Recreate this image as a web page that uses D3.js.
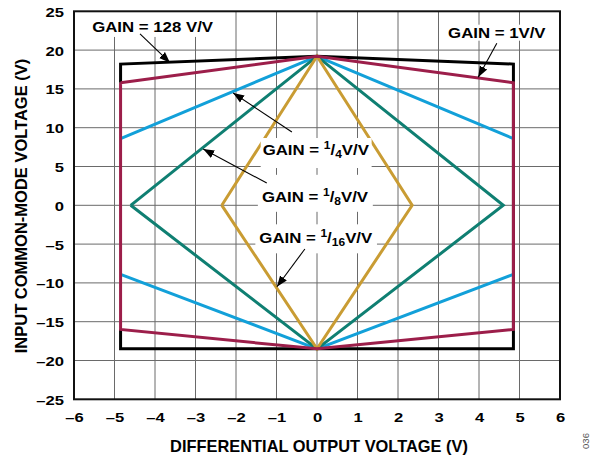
<!DOCTYPE html>
<html><head><meta charset="utf-8">
<script src="https://cdn.jsdelivr.net/npm/d3@7"></script>
<style>body{margin:0;background:#fff}svg{display:block}text{font-family:"Liberation Sans",Arial,sans-serif}</style>
</head><body><svg id="c" width="591" height="457"></svg>
<script>
// Data (x: differential output voltage V, y: input common-mode voltage V)
const xTicks = [-6,-5,-4,-3,-2,-1,0,1,2,3,4,5,6];
const yTicks = [-25,-20,-15,-10,-5,0,5,10,15,20,25];
const gain128 = [[-4.85,-16.0],[-4.85,-18.5],[4.85,-18.5],[4.85,-16.0],[4.85,15.8],[4.85,18.2],[0,19.2],[-4.85,18.2],[-4.85,15.8]];
const gain1 = [[-4.85,15.8],[0,19.2],[4.85,15.8],[4.85,-16.0],[0,-18.5],[-4.85,-16.0],[-4.85,15.8]];
const gainQuarterTop = [[-4.85,8.6],[0,19.2],[4.85,8.6]];
const gainQuarterBot = [[-4.85,-8.9],[0,-18.5],[4.85,-8.9]];
const gainEighth = [[-4.6,0],[0,19.2],[4.6,0],[0,-18.5],[-4.6,0]];
const gainSixteenth = [[-2.35,0],[0,19.2],[2.35,0],[0,-18.5],[-2.35,0]];

const svg = d3.select("#c");
const x = d3.scaleLinear().domain([-6,6]).range([74,560]);
const y = d3.scaleLinear().domain([-25,25]).range([399.3,11.3]);
const SX = 1.2; // horizontal stretch of the original lettering

// grid
const g = svg.append("g");
g.selectAll("line.v").data(xTicks.slice(1,-1)).join("line")
  .attr("x1",d=>x(d)).attr("x2",d=>x(d)).attr("y1",y(25)).attr("y2",y(-25))
  .attr("stroke","#6a6a6a").attr("stroke-width",1);
g.selectAll("line.h").data(yTicks.slice(1,-1)).join("line")
  .attr("y1",d=>y(d)).attr("y2",d=>y(d)).attr("x1",x(-6)).attr("x2",x(6))
  .attr("stroke","#6a6a6a").attr("stroke-width",1);

// axes labels
const fmt = d=>d<0?"\u2013"+Math.abs(d):d;
const xAxis = d3.axisBottom(x).tickValues(xTicks).tickSize(0).tickFormat(fmt);
const yAxis = d3.axisLeft(y).tickValues(yTicks).tickSize(0).tickFormat(fmt);
const ax = svg.append("g").attr("transform",`translate(0,${y(-25)})`).call(xAxis);
const ay = svg.append("g").attr("transform",`translate(${x(-6)},0)`).call(yAxis);
[ax,ay].forEach(a=>{a.select(".domain").remove();
  a.selectAll("text").attr("font-size",13.5).attr("font-weight","bold").attr("fill","#000")
   .attr("x",0).attr("y",0).attr("dy",null)
   .style("font-family","'Liberation Sans',Arial,sans-serif");});
ax.selectAll("text").attr("transform",`translate(0,23) scale(${SX+0.03},1)`);
ay.selectAll("text").attr("transform",`translate(-10,5) scale(${SX+0.03},1)`);

const lineGen = d3.line().x(d=>x(d[0])).y(d=>y(d[1]));

// series lines
const series = svg.append("g").attr("fill","none").attr("stroke-width",3).attr("stroke-linejoin","miter");
series.append("path").attr("d",lineGen(gain128)).attr("stroke","#000");
series.append("path").attr("d",lineGen(gainQuarterTop)).attr("stroke","#12a0d9");
series.append("path").attr("d",lineGen(gainQuarterBot)).attr("stroke","#12a0d9");
series.append("path").attr("d",lineGen(gainEighth)).attr("stroke","#0f7f72");
series.append("path").attr("d",lineGen(gainSixteenth)).attr("stroke","#c99c33");
series.append("path").attr("d",lineGen(gain1)).attr("stroke","#9c1e4a");

// annotations
const annG = svg.append("g");
function lbl(parts,cx,by,pad){
  const gg = annG.append("g");
  const t = gg.append("text").attr("transform",`translate(${cx},${by}) scale(${SX},1)`)
    .attr("text-anchor","middle").attr("font-size",14).attr("font-weight","bold");
  parts.forEach(p=>{
    const ts = t.append("tspan").text(p.t);
    if(p.fs) ts.attr("font-size",p.fs);
    if(p.dy) ts.attr("dy",p.dy);
  });
  const b = t.node().getBBox();
  const x0 = cx + b.x*SX, x1 = cx + (b.x+b.width)*SX;
  gg.insert("rect","text").attr("x",x0-pad[0]).attr("width",x1-x0+pad[0]+pad[1])
    .attr("y",by+pad[2]).attr("height",pad[3]-pad[2]).attr("fill","#fff");
}
const defs = svg.append("defs");
defs.append("marker").attr("id","ah").attr("viewBox","0 0 10 10").attr("refX",10).attr("refY",5)
  .attr("markerWidth",11).attr("markerHeight",11).attr("markerUnits","userSpaceOnUse").attr("orient","auto")
  .append("path").attr("d","M0,1.2 L10,5 L0,8.8 Z").attr("fill","#000");
function arrow(x1,y1,x2,y2){
  annG.append("line").attr("x1",x(x1)).attr("y1",y(y1)).attr("x2",x(x2)).attr("y2",y(y2))
    .attr("stroke","#000").attr("stroke-width",1.1).attr("marker-end","url(#ah)");
}
const frac = d=>[{t:"GAIN = "},{t:"1",fs:10,dy:-6},{t:"/",dy:6},{t:d,fs:10,dy:3},{t:"V/V",dy:-3}];

lbl([{t:"GAIN = 128 V/V"}], x(-4.06), y(22.34), [5,6,-22,5]);
arrow(-4.37,22.1,-3.63,18.38);
lbl([{t:"GAIN = 1V/V"}], x(4.44), y(21.6), [4,4,-13,3]);
arrow(4.44,20.88,3.98,16.5);
lbl(frac("4"), x(-0.03), y(6.48), [2,2,-17,13]);
arrow(-0.62,9.45,-2.07,14.47);
lbl(frac("8"), x(-0.05), y(0.45), [4,4,-27,10]);
arrow(-1.24,2.87,-2.81,7.25);
lbl(frac("16"), x(-0.03), y(-4.9), [4,4,-19,10]);
arrow(-0.3,-5.63,-0.99,-10.5);

// plot border
svg.append("rect").attr("x",x(-6)).attr("y",y(25)).attr("width",x(6)-x(-6)).attr("height",y(-25)-y(25))
  .attr("fill","none").attr("stroke","#111").attr("stroke-width",2);

// axis titles
svg.append("text").attr("x",319).attr("y",452).attr("text-anchor","middle")
  .attr("font-size",16.4).attr("font-weight","bold").text("DIFFERENTIAL OUTPUT VOLTAGE (V)");
svg.append("text").attr("transform",`translate(27,206) rotate(-90)`).attr("text-anchor","middle")
  .attr("font-size",16.5).attr("font-weight","bold")
  .text("INPUT COMMON-MODE VOLTAGE (V)");
svg.append("text").attr("transform","translate(589,441) rotate(-90)").attr("text-anchor","middle")
  .attr("font-size",9.5).attr("fill","#555").text("036");
</script></body></html>
